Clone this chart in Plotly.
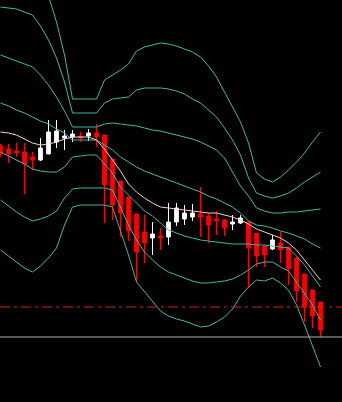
import plotly.graph_objects as go

# Candle data (price points), one bar per period
opens = [256, 253, 251, 250, 245, 242, 248, 260, 264, 265, 266, 266, 269, 267, 243, 221, 205, 188, 170, 164,
         166, 165, 180, 183, 185, 188, 186, 183, 182, 178, 179, 180, 169, 156, 153, 159, 155, 144, 128, 112, 100]
highs = [258, 258, 259, 259, 250, 264, 282, 282, 272, 272, 270, 273, 278, 267, 243, 221, 205, 188, 187, 180,
         174, 199, 199, 197, 198, 215, 189, 191, 183, 187, 187, 180, 169, 157, 167, 170, 155, 145, 128, 112, 100]
lows = [245, 239, 245, 208, 232, 241, 248, 254, 252, 260, 260, 261, 255, 179, 182, 165, 161, 120, 139, 147,
        152, 157, 176, 177, 181, 165, 159, 167, 166, 172, 178, 114, 135, 135, 152, 139, 117, 100, 80, 74, 65]
closes = [249, 248, 249, 238, 242, 254, 270, 271, 266, 268, 264, 269, 265, 217, 197, 189, 171, 150, 159, 168,
          164, 180, 194, 189, 189, 185, 177, 181, 174, 180, 184, 154, 146, 147, 162, 152, 133, 111, 95, 86, 72]

# Band lines: middle plus three upper and three lower envelopes
band_up3 = [443, 442, 441, 439, 436, 424, 406, 380, 347, 303, 303, 303, 303, 322, 327, 332, 338, 351, 355, 357,
            359, 358, 356, 353, 350, 345, 336, 325, 310, 296, 280, 259, 229, 223, 220, 225, 232, 240, 249, 260, 270]
band_up2 = [395, 394, 393, 390, 387, 376, 362, 344, 320, 289, 289, 289, 289, 299, 303, 304, 305, 312, 314, 314,
            314, 313, 311, 308, 303, 299, 292, 285, 274, 262, 247, 224, 209, 206, 204, 206, 209, 214, 220, 225, 230]
band_up1 = [347, 344, 341, 338, 335, 327, 317, 305, 291, 275, 275, 275, 275, 278, 279, 278, 277, 276, 274, 272,
            271, 269, 267, 265, 263, 260, 256, 252, 244, 230, 216, 206, 194, 191, 189, 189, 190, 190, 191, 192, 193]
band_mid = [299, 296, 292, 289, 285, 281, 278, 273, 269, 262, 262, 262, 262, 257, 252, 245, 240, 235, 231, 228,
            225, 222, 219, 216, 213, 210, 206, 203, 199, 195, 189, 181, 177, 176, 174, 171, 169, 166, 163, 158, 154]
band_lo1 = [250, 246, 242, 238, 233, 231, 230, 230, 235, 245, 246, 247, 247, 238, 229, 215, 207, 200, 191, 186,
            179, 172, 169, 166, 164, 162, 161, 160, 159, 158, 158, 158, 157, 157, 156, 155, 154, 146, 137, 126, 115]
band_lo2 = [202, 196, 190, 185, 181, 183, 186, 191, 204, 213, 214, 214, 214, 214, 212, 195, 177, 162, 150, 142,
            135, 130, 127, 124, 121, 119, 119, 120, 121, 123, 127, 132, 138, 140, 140, 135, 131, 120, 109, 97, 82]
band_lo3 = [152, 146, 140, 134, 130, 136, 144, 154, 177, 195, 197, 197, 197, 197, 195, 172, 147, 120, 110, 100,
            91, 86, 83, 81, 78, 75, 76, 80, 85, 93, 106, 115, 122, 121, 124, 119, 112, 97, 77, 57, 35]

# Fast moving average
fast_ma = [270, 269, 267, 263, 259, 257, 258, 260, 263, 265, 265, 265, 262, 253, 242, 231, 218, 210, 204, 199,
           195, 194, 193, 192, 191, 190, 189, 189, 187, 185, 182, 178, 173, 170, 167, 164, 159, 152, 142, 132, 122]

# Horizontal price levels
level_order = 95
level_price = 65

bars = list(range(len(opens)))

BAND_COLOR = "#3dbaa8"

fig = go.Figure()

for band in (band_up3, band_up2, band_up1, band_mid, band_lo1, band_lo2, band_lo3):
    fig.add_trace(go.Scatter(x=bars, y=band, mode="lines",
                             line=dict(color=BAND_COLOR, width=1), hoverinfo="skip"))

fig.add_trace(go.Scatter(x=bars, y=fast_ma, mode="lines",
                         line=dict(color="#f6cfcf", width=1), hoverinfo="skip"))

fig.add_trace(go.Candlestick(
    x=bars, open=opens, high=highs, low=lows, close=closes,
    whiskerwidth=0,
    increasing=dict(line=dict(color="#ffffff", width=1), fillcolor="#ffffff"),
    decreasing=dict(line=dict(color="#ff0000", width=1), fillcolor="#ff0000"),
))

fig.add_hline(y=level_order, line=dict(color="#d42020", width=1, dash="10px,4px,3px,4px"))
fig.add_hline(y=level_price, line=dict(color="#aab4be", width=1))

fig.update_layout(
    width=342, height=402,
    margin=dict(l=0, r=0, t=0, b=0),
    paper_bgcolor="#000000", plot_bgcolor="#000000",
    showlegend=False,
    boxgap=0.34,
    xaxis=dict(range=[-0.0625, 42.6875], visible=False, rangeslider=dict(visible=False)),
    yaxis=dict(range=[0, 402], visible=False),
)

fig.write_html("out.html", config={"displayModeBar": False})
